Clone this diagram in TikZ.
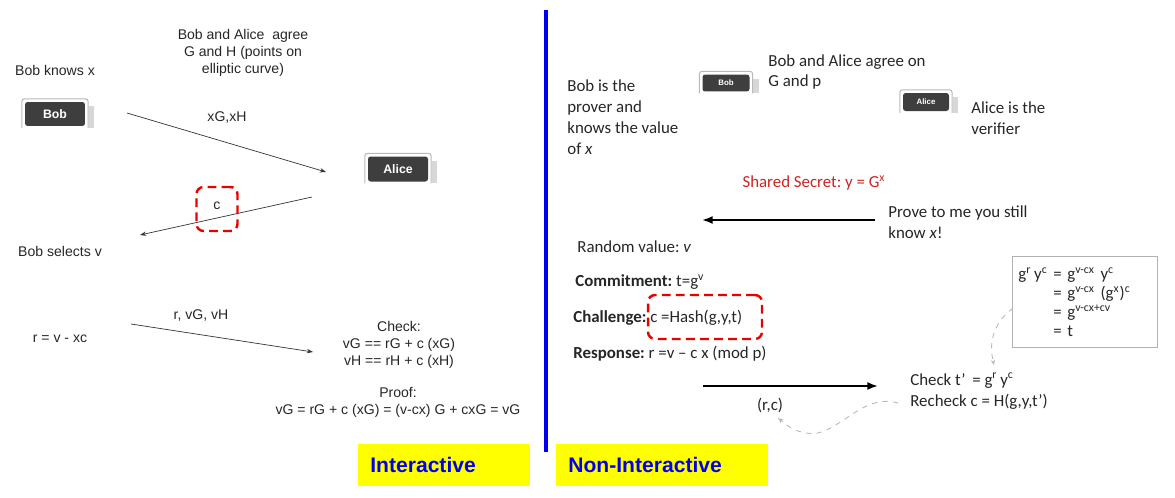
\documentclass[tikz,border=0pt]{standalone}
\usepackage{fontspec}
\setmainfont{Liberation Sans}
\newfontfamily\calib[Ligatures=TeX]{Carlito}
\usetikzlibrary{arrows.meta, positioning, shapes}
\definecolor{btndark}{RGB}{62,62,62}
\definecolor{btnedge}{RGB}{185,185,185}
\definecolor{btnshade}{RGB}{215,215,215}
\definecolor{zkblue}{RGB}{0,0,240}
\definecolor{zkyellow}{RGB}{255,255,0}
\definecolor{zkred}{RGB}{235,0,0}
\definecolor{secretred}{RGB}{205,35,35}
\frenchspacing

\tikzset{
  lft/.style={font=\fontsize{8}{9.7}\selectfont, text=black!85, align=center, inner sep=0pt},
  rgt/.style={font=\calib\fontsize{9.6}{11.9}\selectfont, text=black!85, align=left, inner sep=0pt},
  btn/.style={fill=btndark, rounded corners=1.5pt, text=white, inner sep=0pt},
  thinmsg/.style={-{Stealth[length=3.5pt,width=2.5pt]}, line width=0.4pt, black!80},
  thickmsg/.style={-{Latex[length=6pt,width=4.5pt]}, line width=1.1pt},
  redbox/.style={draw=zkred, line width=1.4pt, dash pattern=on 5pt off 3pt, rounded corners=4pt, inner sep=0pt},
  grayhint/.style={draw=gray!55, dashed, line width=0.5pt, -{Stealth[length=3pt,width=2.5pt]}},
  tag/.style={fill=zkyellow, text=zkblue, font=\fontsize{12}{14}\selectfont\bfseries, anchor=north west, align=left, inner xsep=0.24cm, minimum height=0.84cm}
}

% light frame and shadow round a button
\newcommand{\btnframe}[1]{%
  \fill[btnshade] ([xshift=1.8pt,yshift=-2.5pt]#1.north east) rectangle ([xshift=5pt,yshift=-0.8pt]#1.south east);
  \draw[btnedge, line width=0.6pt, rounded corners=1.5pt] ([xshift=-1.6pt,yshift=-0.8pt]#1.south west) |- ([xshift=1.6pt,yshift=1.6pt]#1.north east) -- ([xshift=1.6pt,yshift=-0.8pt]#1.south east);
}

\begin{document}
\begin{tikzpicture}[x=0.02cm, y=-0.02cm]
\useasboundingbox (0,0) rectangle (1175,497);

% Interactive
\node[lft] (knows) at (55,70) {Bob knows x};
\node[lft] (agree) at (243,53) {Bob and Alice\ \ agree\\G and H (points on\\elliptic curve)};
\node[btn, minimum width=1.2cm, minimum height=0.48cm, font=\fontsize{7}{8}\selectfont\bfseries] (bob) at (55,114) {Bob};
\btnframe{bob}
\node[btn, minimum width=1.2cm, minimum height=0.5cm, font=\fontsize{7}{8}\selectfont\bfseries] (alice) at (398,169) {Alice};
\btnframe{alice}

\coordinate (m1a) at (127,113);
\coordinate (m1b) at (326,172);
\draw[thinmsg] (m1a) -- (m1b);
\node[lft] (m1lab) at (227,117) {xG,xH};

\coordinate (m2a) at (312,197);
\coordinate (m2b) at (140,235);
\draw[thinmsg] (m2a) -- (m2b);
\node[redbox, minimum width=0.82cm, minimum height=0.88cm] (chal) at (217,209) {};
\node[lft] (clab) at (217,206) {c};
\node[lft] (selects) at (60,251) {Bob selects v};

\node[lft] (resp) at (60,339) {r = v - xc};
\coordinate (m3a) at (131,324);
\coordinate (m3b) at (313,352);
\draw[thinmsg] (m3a) -- (m3b);
\node[lft] (m3lab) at (201,315) {r, vG, vH};
\node[lft] (check) at (399,345) {Check:\\vG == rG + c (xG)\\vH == rH + c (xH)};
\node[lft] (proof) at (398,402) {Proof:\\vG = rG + c (xG) = (v-cx) G + cxG = vG};

\node[tag, text width=2.96cm] (inter) at (358,444) {Interactive};

% divider
\draw[zkblue, line width=1.8pt] (546,10) -- (546,452);

% Non-Interactive
\node[tag, text width=3.76cm] (noninter) at (556,444) {Non-Interactive};

\node[rgt, anchor=west] (prover) at (567,117) {Bob is the\\prover and\\knows the value\\of \textit{x}};
\node[btn, minimum width=0.94cm, minimum height=0.34cm, font=\fontsize{4.5}{5}\selectfont\bfseries] (bobs) at (726,83) {Bob};
\btnframe{bobs}
\node[rgt, anchor=west] (agreep) at (768,72) {Bob and Alice agree on\\G and p};
\node[btn, minimum width=0.92cm, minimum height=0.36cm, font=\fontsize{4.5}{5}\selectfont\bfseries] (alices) at (926,102) {Alice};
\btnframe{alices}
\node[rgt, anchor=west] (verifier) at (971,118) {Alice is the\\verifier};

\node[rgt, text=secretred] (secret) at (814,183) {Shared Secret: y = G\textsuperscript{x}};

\node[rgt, anchor=west] (prove) at (888,222) {Prove to me you still\\know \textit{x}!};
\coordinate (p0) at (875,220);
\coordinate (p1) at (702,220);
\draw[thickmsg] (p0) -- (p1);

\node[rgt, anchor=west] (rand) at (577,247) {Random value: \textit{v}};
\node[rgt, anchor=west] (commit) at (575,282) {\textbf{Commitment:} t=g\textsuperscript{v}};
\node[rgt, anchor=west] (challenge) at (573,318) {\textbf{Challenge:} c =Hash(g,y,t)};
\node[redbox, minimum width=2.28cm, minimum height=0.88cm] (hashbox) at (705,317) {};
\node[rgt, anchor=west] (response) at (573,354) {\textbf{Response:} r =v – c x (mod p)};

\node[rgt, draw=gray!60, line width=0.5pt, anchor=west, text width=2.66cm, inner xsep=3.4pt, minimum height=1.82cm, font=\calib\fontsize{9.6}{10.8}\selectfont] (ident) at (1012,302)
  {g\textsuperscript{r}\,y\textsuperscript{c} = g\textsuperscript{v-cx} y\textsuperscript{c}\\
   \hphantom{g\textsuperscript{r}\,y\textsuperscript{c} }= g\textsuperscript{v-cx} (g\textsuperscript{x})\textsuperscript{c}\\
   \hphantom{g\textsuperscript{r}\,y\textsuperscript{c} }= g\textsuperscript{v-cx+cv}\\
   \hphantom{g\textsuperscript{r}\,y\textsuperscript{c} }= t};

\node[rgt, anchor=west] (verify) at (910,391) {Check t’\ \,= g\textsuperscript{r}\,y\textsuperscript{c}\\Recheck c = H(g,y,t’)};

\coordinate (s0) at (703,386);
\coordinate (s1) at (878,386);
\draw[thickmsg] (s0) -- (s1);
\node[rgt] (rc) at (770,405) {(r,c)};

\coordinate (h0) at (1013,308);
\coordinate (h1) at (994,365);
\draw[grayhint] (h0) .. controls (995,322) and (988,340) .. (h1);
\coordinate (h2) at (898,403);
\coordinate (h3) at (778,418);
\draw[grayhint] (h2) .. controls (860,392) and (835,440) .. (806,433) .. controls (793,430) .. (h3);
\end{tikzpicture}
\end{document}
